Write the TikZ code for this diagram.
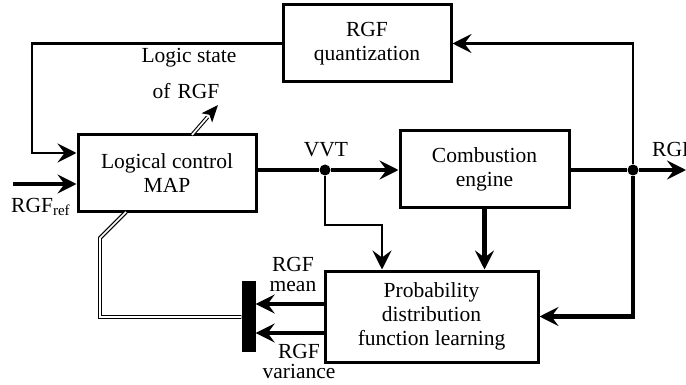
\documentclass[tikz,border=0pt]{standalone}
\usepackage{fontspec}
\setmainfont{Liberation Serif}
\usetikzlibrary{arrows.meta,calc}
\begin{document}
\begin{tikzpicture}[x=1pt,y=-1pt,
  font=\fontsize{21.5}{24}\selectfont,
  blk/.style={draw,line width=3pt,inner sep=0pt,align=center},
  thick line/.style={line width=4.4pt},
  thin line/.style={line width=2.7pt},
  arr/.style={-{Stealth[length=19pt,width=19pt,inset=7pt]}},
  dbl/.style={draw,line width=1.1pt,double=white,double distance=1.7pt},
  lbl/.style={inner sep=0pt,align=center},
  dot/.style={circle,fill,inner sep=0pt,minimum size=11pt}]
\useasboundingbox (0,0) rectangle (686,385);
% blocks
\node[blk,minimum width=168pt,minimum height=77pt] (quant) at (367,43.5) {RGF\\quantization};
\node[blk,minimum width=178pt,minimum height=77pt] (map) at (167,173) {Logical control\\MAP};
\node[blk,minimum width=169pt,minimum height=77pt] (eng) at (484.5,169.5) {Combustion\\engine};
\node[blk,minimum width=213pt,minimum height=91pt] (pdf) at (431.5,316.5) {Probability\\distribution\\function learning};
\node[fill,inner sep=0pt,minimum width=14pt,minimum height=71pt] (bar) at (248.5,316) {};
% junctions
\node[dot] (j1) at (325,170) {};
\node[dot] (j2) at (633,170) {};
\coordinate (out) at (686,170);
\coordinate (in) at (13,184);
% main line
\draw[thick line] (map.east |- j1) -- (j1);
\draw[thick line,arr] (j1) -- (eng.west |- j1);
\draw[thick line] (eng.east |- j2) -- (j2);
\draw[thick line,arr] (j2) -- (out);
\draw[thick line,arr] (in) -- (map.west |- in);
% top feedback
\draw[thin line,arr] (j2) |- (quant.east);
\draw[thin line,arr] (quant.west) -| (32,153) -- (map.west |- 0,153);
% down branches
\draw[thin line,arr] (j1) |- (382,225) -- (pdf.north -| 382,0);
\draw[thick line,arr] (eng.south) -- (pdf.north -| eng.south);
\draw[thick line,arr] (j2) |- (pdf.east);
% pdf to bar
\draw[thick line,arr] (pdf.west |- 0,304) -- (bar.east |- 0,304);
\draw[thick line,arr] (pdf.west |- 0,333) -- (bar.east |- 0,333);
% double lines
\draw[dbl] (126,212) -- (100,238) -- (100,317) -- (bar.west |- 0,317);
\coordinate (ls) at (192,135);
\coordinate (lt) at (218,105);
\draw[dbl] (ls) -- ($(ls)!0.6!(lt)$);
\draw[line width=1pt,-{Stealth[length=17pt,width=14pt,inset=4pt]}] ($(lt)!2pt!(ls)$) -- (lt);
% labels
\node[lbl] (ls1) at (189,58) {Logic state};
\node[lbl] (ls2) at (186,91) {of\,\,RGF};
\node[lbl] (vvt) at (326,150) {VVT};
\node[lbl,anchor=west] (rgfo) at (652,149) {RGF};
\node[lbl,anchor=west] (rgfref) at (11,207) {RGF$_{\mathrm{ref}}$};
\node[lbl] (mean) at (293,274) {RGF\\[-4pt]mean};
\node[lbl] (var) at (299,361) {RGF\\[-4pt]variance};
\end{tikzpicture}
\end{document}
